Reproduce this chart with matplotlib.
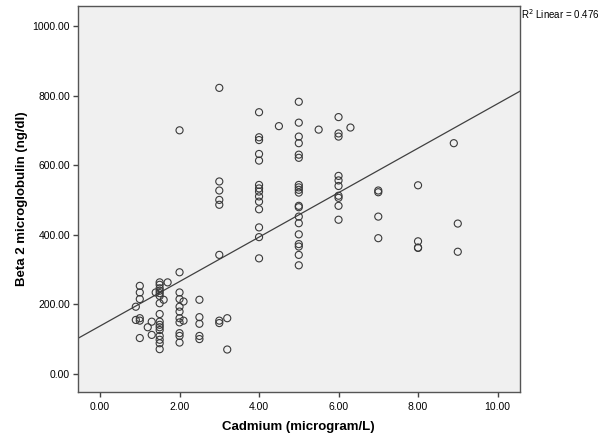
import numpy as np
import matplotlib
matplotlib.use("Agg")
import matplotlib.pyplot as plt

plt.rcParams['font.family'] = ['Liberation Sans', 'DejaVu Sans']

# cadmium (microgram/L) columns and the beta 2 microglobulin values read in each
cd_levels = [0.9, 1.0, 1.2, 1.3, 1.4, 1.5, 1.6, 1.7, 2.0, 2.1, 2.5, 3.0, 3.2,
             4.0, 4.5, 5.0, 5.5, 6.0, 6.3, 7.0, 8.0, 8.9, 9.0]
b2m_0_9 = [193, 155]
b2m_1_0 = [253, 234, 215, 160, 153, 103]
b2m_1_2 = [134]
b2m_1_3 = [150, 112]
b2m_1_4 = [234]
b2m_1_5 = [263, 256, 246, 239, 232, 224, 203, 172, 150, 141, 134, 126, 109, 98, 88, 71]
b2m_1_6 = [213]
b2m_1_7 = [263]
b2m_2_0 = [700, 292, 234, 215, 193, 179, 160, 148, 117, 109, 90]
b2m_2_1 = [208, 153]
b2m_2_5 = [213, 163, 144, 109, 100]
b2m_3_0 = [822, 553, 527, 500, 486, 342, 153, 146]
b2m_3_2 = [160, 70]
b2m_4_0 = [752, 680, 672, 632, 613, 543, 533, 524, 510, 495, 473, 421, 393, 332]
b2m_4_5 = [712]
b2m_5_0 = [782, 722, 682, 663, 630, 621, 543, 536, 529, 521, 483, 479, 452, 433,
           401, 373, 366, 342, 312]
b2m_5_5 = [702]
b2m_6_0 = [738, 691, 682, 569, 556, 540, 512, 506, 483, 443]
b2m_6_3 = [708]
b2m_7_0 = [527, 522, 452, 390]
b2m_8_0 = [542, 381, 363, 362]
b2m_8_9 = [663]
b2m_9_0 = [432, 351]

groups = [b2m_0_9, b2m_1_0, b2m_1_2, b2m_1_3, b2m_1_4, b2m_1_5, b2m_1_6, b2m_1_7,
          b2m_2_0, b2m_2_1, b2m_2_5, b2m_3_0, b2m_3_2, b2m_4_0, b2m_4_5, b2m_5_0,
          b2m_5_5, b2m_6_0, b2m_6_3, b2m_7_0, b2m_8_0, b2m_8_9, b2m_9_0]

x = np.concatenate([[c] * len(g) for c, g in zip(cd_levels, groups)])
y = np.concatenate(groups).astype(float)

xticks = [0, 2, 4, 6, 8, 10]
yticks = [0, 200, 400, 600, 800, 1000]
r2_label = "R$^2$ Linear = 0.476"

fig = plt.figure(figsize=(6.03, 4.36), dpi=100)
ax = fig.add_axes([0.129, 0.101, 0.733, 0.885])
ax.set_facecolor('#f0f0f0')

ax.scatter(x, y, s=26, facecolors='none', edgecolors='#3a3a3a', linewidths=0.8, zorder=3)

xlim = (-0.56, 10.56)
ylim = (-52, 1057)
slope, intercept = np.polyfit(x, y, 1)
xl = np.array(xlim)
ax.plot(xl, intercept + slope * xl, color='#404040', lw=0.9, zorder=2)

ax.set_xlim(*xlim)
ax.set_ylim(*ylim)
ax.set_xticks(xticks)
ax.set_yticks(yticks)
ax.set_xticklabels([f"{t:.2f}" for t in xticks], fontsize=7.5)
ax.set_yticklabels([f"{t:.2f}" for t in yticks], fontsize=7.5)
ax.tick_params(axis='x', direction='out', length=3.5, width=1, color='#444444', pad=4)
ax.tick_params(axis='y', direction='out', length=3.5, width=1, color='#444444', pad=2)
for s in ax.spines.values():
    s.set_color('#555555')
    s.set_linewidth(1.0)

ax.set_xlabel("Cadmium (microgram/L)", fontsize=9.5, fontweight='bold', labelpad=6)
ax.set_ylabel("Beta 2 microglobulin (ng/dl)", fontsize=9.5, fontweight='bold', labelpad=3)

fig.text(0.864, 0.967, r2_label, fontsize=7, ha='left', va='center')

fig.savefig("out.png", dpi=100)
